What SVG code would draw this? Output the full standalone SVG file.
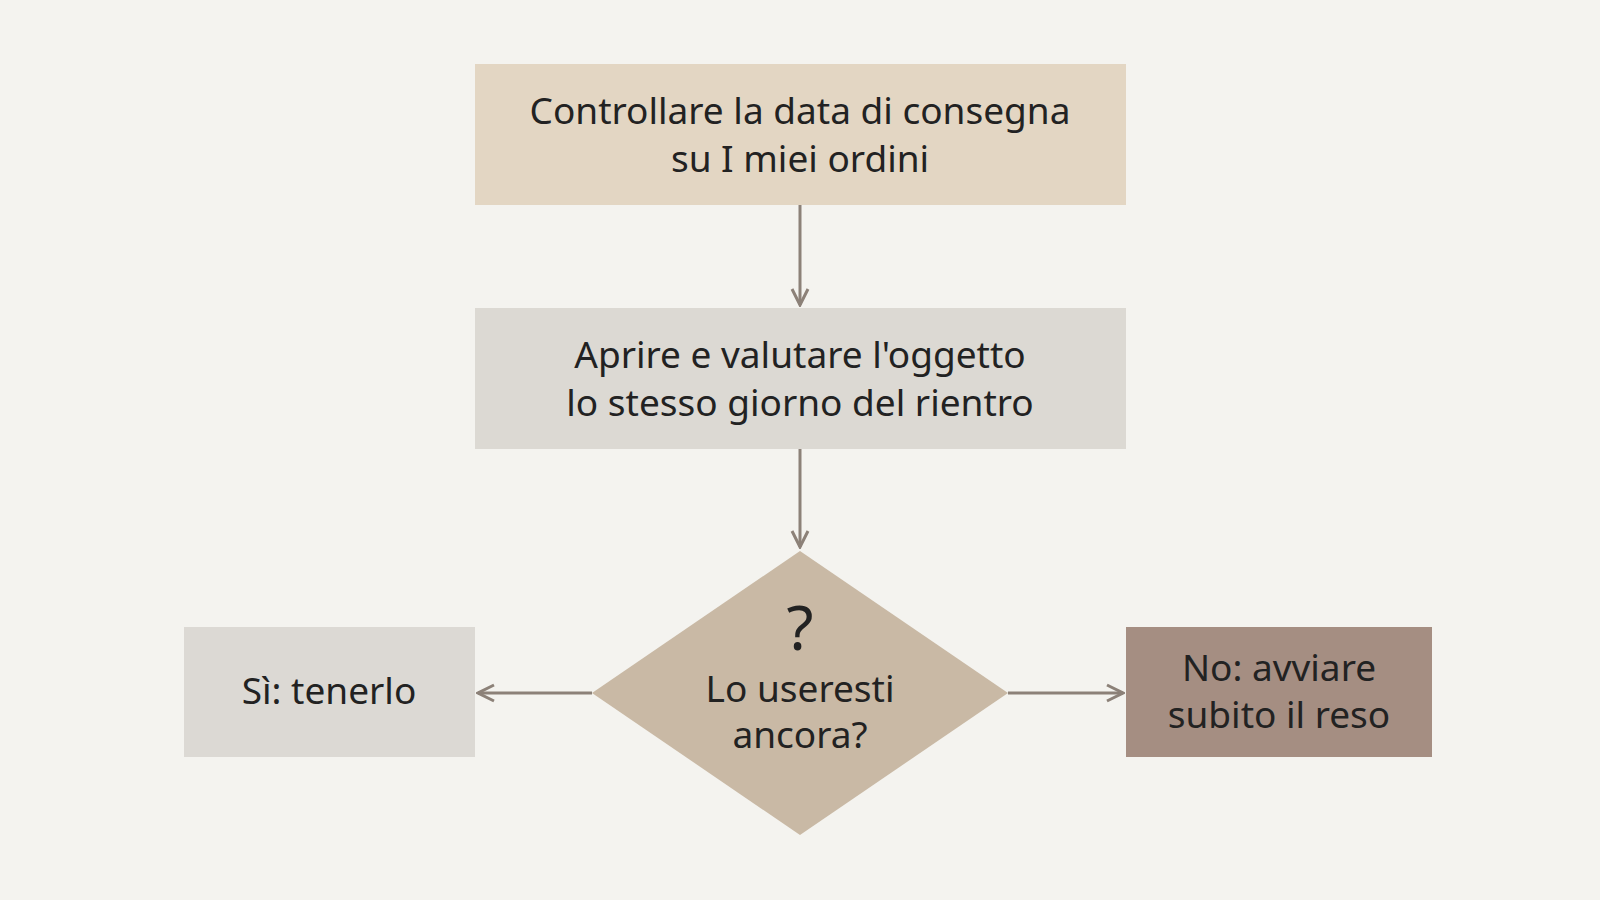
<svg xmlns="http://www.w3.org/2000/svg" width="1600" height="900" viewBox="0 0 1600 900">
<style>
text{font-family:"Noto Sans","Open Sans",sans-serif;font-size:37px;fill:#222;text-anchor:middle}
.c{stroke:#8c8178;stroke-width:3;fill:none}
</style>
<defs><marker id="a" viewBox="0 0 20 20" refX="18" refY="10" markerWidth="20" markerHeight="20" markerUnits="userSpaceOnUse" orient="auto"><path d="M2 2L18 10L2 18" fill="none" stroke="#8c8178" stroke-width="3"/></marker></defs>
<rect width="1600" height="900" fill="#f4f3ef"/>
<g id="n1"><rect x="475" y="64" width="651" height="141" fill="#e3d6c3"/><text x="800" y="124">Controllare la data di consegna</text><text x="800" y="172">su I miei ordini</text></g>
<g id="n2"><rect x="475" y="308" width="651" height="141" fill="#dcd9d3"/><text x="800" y="368">Aprire e valutare l'oggetto</text><text x="800" y="416">lo stesso giorno del rientro</text></g>
<g id="n3"><polygon points="800,551 1008,693 800,835 592,693" fill="#c9b9a5"/><text x="800" y="650" style="font-size:62px">?</text><text x="800" y="702">Lo useresti</text><text x="800" y="748">ancora?</text></g>
<g id="n4"><rect x="184" y="627" width="291" height="130" fill="#dcd9d4"/><text x="329" y="704">Sì: tenerlo</text></g>
<g id="n5"><rect x="1126" y="627" width="306" height="130" fill="#a58e82"/><text x="1279" y="681">No: avviare</text><text x="1279" y="728">subito il reso</text></g>
<g id="connectors">
<line class="c" x1="800" y1="205" x2="800" y2="305" marker-end="url(#a)"/>
<line class="c" x1="800" y1="449" x2="800" y2="547" marker-end="url(#a)"/>
<line class="c" x1="592" y1="693" x2="478" y2="693" marker-end="url(#a)"/>
<line class="c" x1="1008" y1="693" x2="1123" y2="693" marker-end="url(#a)"/>
</g>
</svg>
